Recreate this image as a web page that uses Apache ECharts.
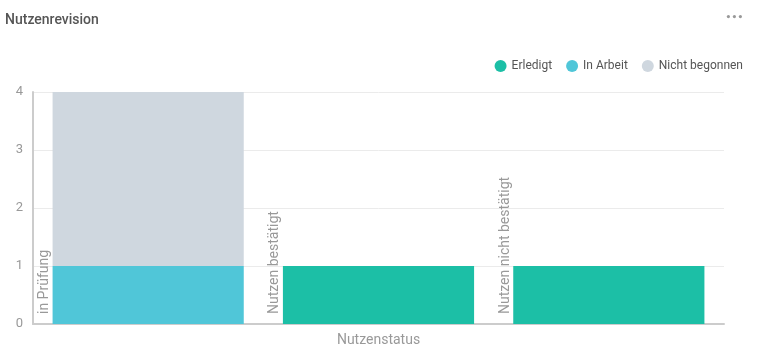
<!DOCTYPE html>
<html>
<head>
<meta charset="utf-8">
<script src="https://cdn.jsdelivr.net/npm/echarts@6/dist/echarts.min.js"></script>
<style>
  html, body { margin: 0; padding: 0; background: #fff; }
  #NutzenChart { width: 759px; height: 354px; }
</style>
</head>
<body>
<div id="NutzenChart"></div>
<script>
var categories = ['in Prüfung', 'Nutzen bestätigt', 'Nutzen nicht bestätigt'];
var erledigt = [0, 1, 1];
var inArbeit = [1, 0, 0];
var nichtBegonnen = [3, 0, 0];
var yTicks = [0, 1, 2, 3, 4];

var chart = echarts.init(document.getElementById('NutzenChart'));

var option = {
    textStyle: { fontFamily: 'Roboto' },
    title: {
        text: 'Nutzenrevision',
        left: 0,
        top: 8,
        textStyle: { fontSize: 14, fontWeight: 500, color: '#555' }
    },
    graphic: [
        // "..." Menüpunkte oben rechts
        { type: 'circle', right: 29, top: 15, shape: { r: 1.6 }, style: { fill: '#999' } },
        { type: 'circle', right: 23, top: 15, shape: { r: 1.6 }, style: { fill: '#999' } },
        { type: 'circle', right: 17, top: 15, shape: { r: 1.6 }, style: { fill: '#999' } }
    ],
    color: ['#1cbfa6', '#50c6d8', '#cfd7df'],
    legend: {
        right: 11,
        top: 55,
        icon: 'circle',
        itemWidth: 12,
        itemHeight: 12,
        itemGap: 14,
        textStyle: { color: '#555', fontSize: 12 },
        data: ['Erledigt', 'In Arbeit', 'Nicht begonnen']
    },
    grid: { left: 33, right: 35, top: 92, bottom: 30, containLabel: false },
    xAxis: {
        type: 'category',
        data: categories,
        name: 'Nutzenstatus',
        nameLocation: 'middle',
        nameGap: 9,
        nameTextStyle: { color: '#999', fontSize: 14 },
        axisLine: { lineStyle: { color: '#ccc', width: 2 } },
        axisTick: { show: false },
        axisLabel: { show: false }
    },
    yAxis: {
        type: 'value',
        min: yTicks[0],
        max: yTicks[yTicks.length - 1],
        interval: 1,
        axisLine: { show: true, lineStyle: { color: '#ccc', width: 2 } },
        axisTick: { show: false },
        axisLabel: { color: '#999', fontSize: 13, margin: 10 },
        splitLine: { lineStyle: { color: '#ebebeb' } }
    },
    series: [
        {
            name: 'Erledigt',
            type: 'bar',
            stack: 'status',
            barCategoryGap: '17%',
            data: erledigt,
            label: {
                show: true,
                formatter: '{b}',
                position: [-8, '100%'],
                rotate: 90,
                align: 'left',
                verticalAlign: 'middle',
                padding: [0, 0, 0, 10],
                color: '#999',
                fontSize: 14
            }
        },
        { name: 'In Arbeit', type: 'bar', stack: 'status', data: inArbeit },
        { name: 'Nicht begonnen', type: 'bar', stack: 'status', data: nichtBegonnen }
    ]
};

chart.setOption(option);
</script>
</body>
</html>
